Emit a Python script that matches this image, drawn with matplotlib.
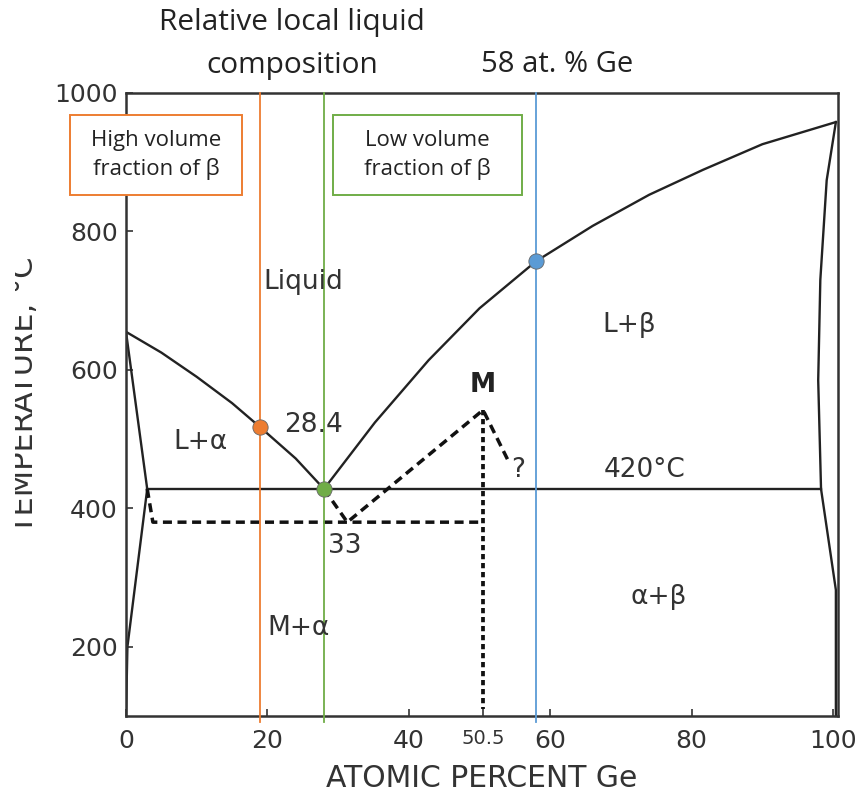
import matplotlib
matplotlib.use('Agg')
import matplotlib.pyplot as plt
from matplotlib.patches import Rectangle
from matplotlib.transforms import Bbox, TransformedBbox

W, H = 861, 796

# liquidus, Al side (at.% Ge, deg C)
liq_al_x = [0, 5, 10, 15, 19, 24, 28]
liq_al_t = [655, 625, 590, 552, 517, 472, 428]
# liquidus, Ge side
liq_ge_x = [28, 35.2, 42.8, 50, 58, 66, 74, 81.6, 90, 100.4]
liq_ge_t = [428, 524, 614, 689, 757, 808, 853, 889, 926, 958]
# Al solidus / solvus
sol_al_x = [0, 3.0, 0.2, 0]
sol_al_t = [655, 428, 200, 100]
# Ge solidus / solvus
sol_ge_x = [100.4, 99.1, 98.2, 97.9, 98.3, 100.4, 100.4]
sol_ge_t = [958, 874, 730, 585, 428, 282, 100]
# eutectic
eut_x = [3.0, 98.3]
eut_t = [428, 428]
# metastable M phase (dashed)
meta_h_x = [3.0, 3.8, 50.2]
meta_h_t = [428, 380, 380]
meta_m_x = [28, 31.3, 50.5, 54]
meta_m_t = [428, 380, 542, 470]
meta_v_x = [50.5, 50.5]
meta_v_t = [542, 110]

# compositions marked
comp_x = [19, 28, 58]
comp_t = [517, 428, 757]
comp_col = ['#ED7D31', '#70AD47', '#5B9BD5']

xticks = [0, 20, 40, 50.5, 60, 80, 100]
xtick_labels = ['0', '20', '40', '50.5', '60', '80', '100']
yticks = [200, 400, 600, 800, 1000]

fig = plt.figure(figsize=(W / 100, H / 100), dpi=100)
ax = fig.add_axes([126 / W, 1 - 716 / H, (838 - 126) / W, (716 - 93) / H])
ax.set_xlim(0, 100.7)
ax.set_ylim(100, 1000)

lc = '#222222'
lw = 1.7
ax.plot(liq_al_x, liq_al_t, color=lc, lw=lw)
ax.plot(liq_ge_x, liq_ge_t, color=lc, lw=lw)
ax.plot(sol_al_x, sol_al_t, color=lc, lw=lw)
ax.plot(sol_ge_x, sol_ge_t, color=lc, lw=lw, clip_on=False)
ax.plot(eut_x, eut_t, color=lc, lw=lw)
ax.plot(meta_h_x, meta_h_t, color='#111111', lw=2.5, dashes=(2.6, 1.6))
ax.plot(meta_m_x, meta_m_t, color='#111111', lw=2.5, dashes=(2.6, 1.6))
ax.plot(meta_v_x, meta_v_t, color='#111111', lw=2.7, dashes=(1.4, 1.0))

# vertical composition lines
for x, c in zip(comp_x, comp_col):
    ax.plot([x, x], [1000, 92], color=c, lw=1.3, clip_on=False, zorder=3)
for x, t, c in zip(comp_x, comp_t, comp_col):
    ax.plot(x, t, 'o', ms=11, color=c, mec='#666666', mew=0.6, zorder=5)

for s in ax.spines.values():
    s.set_color('#333333')
    s.set_linewidth(1.8)

ff = 'DejaVu Sans'
ax.set_xticks(xticks)
ax.set_xticklabels(xtick_labels)
ax.set_yticks(yticks)
ax.tick_params(direction='in', length=5, width=1.2, color='#333333',
               labelsize=18, labelcolor='#333333')
ax.tick_params(axis='x', pad=9)
ax.tick_params(axis='y', pad=6)
ax.get_xticklabels()[3].set_fontsize(14)

ax.set_xlabel('ATOMIC PERCENT Ge', fontsize=21.5, family=ff, color='#333333',
              labelpad=8)

# y label, cut at the left edge as in the scan
yl = fig.text(33 / W, 1 - 395 / H, 'TEMPERATURE, °C', rotation=90,
              rotation_mode='anchor', ha='center', va='baseline',
              fontsize=22, family=ff, color='#333333')
yl.set_clip_box(TransformedBbox(Bbox([[15 / W, 0], [1, 1]]), fig.transFigure))
yl.set_clip_on(True)

tk = dict(fontsize=19, family=ff, color='#333333', ha='center', va='center')
ax.text(25.1, 727, 'Liquid', **tk)
ax.text(71.2, 665, 'L+β', **tk)
ax.text(10.5, 496, 'L+α', **tk)
ax.text(26.5, 520, '28.4', **tk)
ax.text(50.5, 578, 'M', fontsize=19, family=ff, color='#222222',
        ha='center', va='center', fontweight='bold')
ax.text(55.4, 455, '?', **tk)
ax.text(73.3, 456, '420°C', **tk)
ax.text(31.0, 346, '33', **tk)
ax.text(75.4, 272, 'α+β', **tk)
ax.text(24.4, 227, 'M+α', **tk)

# annotations above the diagram
cal = ['Open Sans', 'DejaVu Sans']
fig.text(292 / W, 1 - 44 / H, 'Relative local liquid\ncomposition',
         ha='center', va='center', fontsize=21.5, family=cal, color='#222222',
         linespacing=1.6)
fig.text(557 / W, 1 - 65 / H, '58 at. % Ge', ha='center', va='center',
         fontsize=21, family=cal, color='#222222')

boxes = [(70, 115, 242, 195, '#ED7D31', 'High volume\nfraction of β'),
         (333, 115, 522, 195, '#70AD47', 'Low volume\nfraction of β')]
for x0, y0, x1, y1, c, txt in boxes:
    fig.add_artist(Rectangle((x0 / W, 1 - y1 / H), (x1 - x0) / W, (y1 - y0) / H,
                             transform=fig.transFigure, facecolor='white',
                             edgecolor=c, lw=1.4, zorder=6))
    fig.text((x0 + x1) / 2 / W, 1 - (y0 + y1) / 2 / H, txt, ha='center',
             va='center', fontsize=16, family=cal, color='#222222',
             linespacing=1.45, zorder=7)

fig.savefig('out.png', dpi=100)
